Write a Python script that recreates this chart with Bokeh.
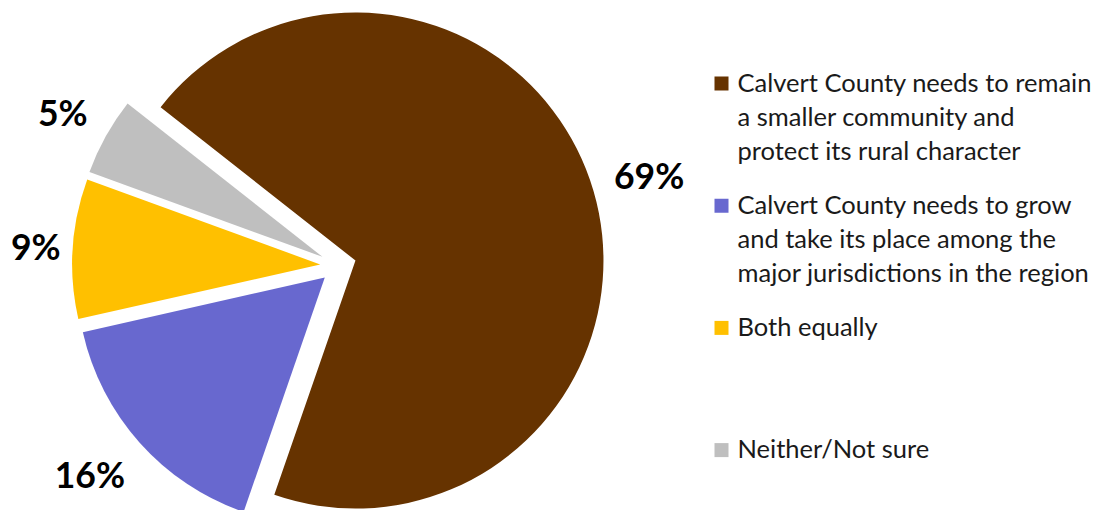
import math
from bokeh.plotting import figure
from bokeh.models import Range1d, ColumnDataSource
from bokeh.core.properties import value
from bokeh.embed import file_html
from bokeh.resources import INLINE

# ---- data ----
categories = [
    "Calvert County needs to remain\na smaller community and\nprotect its rural character",
    "Calvert County needs to grow\nand take its place among the\nmajor jurisdictions in the region",
    "Both equally",
    "Neither/Not sure",
]
values = [69, 16, 9, 5]
labels = ["69%", "16%", "9%", "5%"]
colors = ["#663300", "#6868CF", "#FFC000", "#BFBFBF"]

# ---- layout (pixel-like data units: x = screen x, y = 510 - screen y) ----
W, H = 1101, 510
cx, cy = 337.7, H - 265.1
R = 248
explode = 18
start_deg = 141.8
label_r = [323, 325, 303, 313]
label_nudge_x = [1, -6, 0, -2]
label_nudge_y = [-1, 8, 0, 1]

total = float(sum(values))
starts, ends, mids = [], [], []
a = math.radians(start_deg)
for v in values:
    span = 2 * math.pi * v / total
    starts.append(a)
    ends.append(a - span)
    mids.append(a - span / 2)
    a -= span

xs = [cx + explode * math.cos(m) for m in mids]
ys = [cy + explode * math.sin(m) for m in mids]
lx = [cx + r * math.cos(m) + n for r, m, n in zip(label_r, mids, label_nudge_x)]
ly = [cy + r * math.sin(m) + n for r, m, n in zip(label_r, mids, label_nudge_y)]

src = ColumnDataSource(dict(x=xs, y=ys, start=starts, end=ends, color=colors,
                            lx=lx, ly=ly, label=labels))

p = figure(width=W, height=H, output_backend="svg", toolbar_location=None,
           x_range=Range1d(0, W), y_range=Range1d(0, H), min_border=0)
p.axis.visible = False
p.grid.visible = False
p.outline_line_color = None
p.background_fill_color = "white"
p.border_fill_color = "white"

p.wedge(x="x", y="y", radius=R, start_angle="start", end_angle="end",
        direction="clock", fill_color="color", line_color=None, source=src)

p.text(x="lx", y="ly", text="label", source=src, text_font=value("Lato"),
       text_font_style="bold", text_font_size="35.5px", text_color="#000000",
       text_align="center", text_baseline="middle")

# legend
leg_x = 721
leg_text_x = 737
leg_y0 = H - 81
leg_step = 122.2
line_step = 34
entry_y = [leg_y0 - i * leg_step for i in range(len(categories))]
lsrc = ColumnDataSource(dict(x=[leg_x] * len(categories), y=[y - 2 for y in entry_y],
                             color=colors))
p.scatter(x="x", y="y", marker="square", size=14, fill_color="color",
          line_color=None, source=lsrc)

tx, ty, tt = [], [], []
for cat, y0 in zip(categories, entry_y):
    for j, line in enumerate(cat.split("\n")):
        tx.append(leg_text_x)
        ty.append(y0 - j * line_step)
        tt.append(line)
tsrc = ColumnDataSource(dict(x=tx, y=ty, text=tt))
p.text(x="x", y="y", text="text", source=tsrc, text_font=value("Lato"),
       text_font_size="25.5px", text_color="#1a1a1a", text_align="left",
       text_baseline="middle")

open("out.html", "w").write(file_html(p, INLINE))
